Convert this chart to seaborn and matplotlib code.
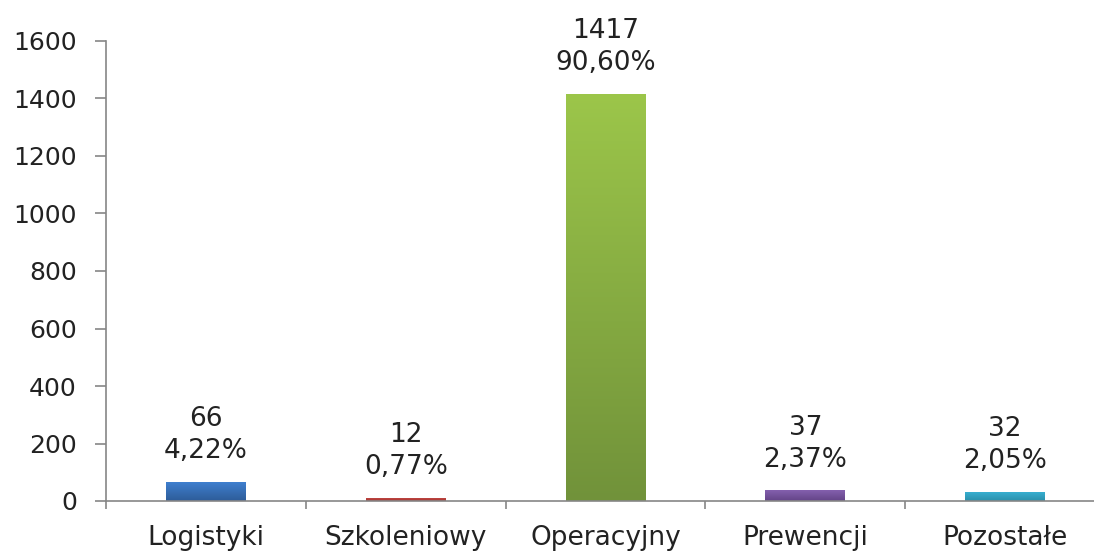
import matplotlib
matplotlib.use("Agg")
from matplotlib import pyplot as plt
import seaborn as sns
import numpy as np
import pandas as pd
from matplotlib.colors import LinearSegmentedColormap

categories = ["Logistyki", "Szkoleniowy", "Operacyjny", "Prewencji", "Pozostałe"]
counts = [66, 12, 1417, 37, 32]
percents = ["4,22%", "0,77%", "90,60%", "2,37%", "2,05%"]
colors_light = ["#3F7FCF", "#C94D48", "#9CC64A", "#8460AE", "#39B2D3"]
colors_dark = ["#2D5C98", "#A3322F", "#71923A", "#634487", "#2A8FAB"]

df = pd.DataFrame({"cat": categories, "n": counts})

sns.set_style("white")
plt.rcParams["font.family"] = ["DejaVu Sans"]

fig = plt.figure(figsize=(10.94, 5.52), dpi=100)
ax = fig.add_axes([106 / 1094, 1 - 501 / 552, 999 / 1094, 460 / 552])

sns.barplot(data=df, x="cat", y="n", hue="cat", palette=colors_light,
            width=0.4, legend=False, ax=ax, saturation=1)

# vertical gradient on each bar
for patch, c1, c2 in zip(ax.patches, colors_light, colors_dark):
    x0, y0 = patch.get_x(), patch.get_y()
    w, h = patch.get_width(), patch.get_height()
    cmap = LinearSegmentedColormap.from_list("g", [c2, c1])
    grad = np.linspace(0, 1, 256).reshape(-1, 1)
    im = ax.imshow(grad, cmap=cmap, aspect="auto", origin="lower",
                   extent=[x0, x0 + w, y0, y0 + h], zorder=patch.get_zorder() + 0.1)
    im.set_clip_path(patch)

for i, (n, p) in enumerate(zip(counts, percents)):
    ax.text(i, n + 62, f"{n}\n{p}", ha="center", va="bottom",
            fontsize=19, color="#222222", linespacing=1.3)

ax.set_xlim(-0.5, 4.5)
ax.set_ylim(0, 1600)
ax.set_yticks(range(0, 1601, 200))
ax.set_xlabel("")
ax.set_ylabel("")

ax.set_xticks(np.arange(-0.5, 4.6, 1), minor=True)
ax.tick_params(axis="x", which="major", length=0, pad=17, labelsize=19, labelcolor="#222222")
ax.tick_params(axis="x", which="minor", bottom=True, length=6, direction="out",
               color="#868686", width=1.2)
ax.tick_params(axis="y", left=True, length=8, direction="out", color="#868686", width=1.2,
               pad=13, labelsize=18, labelcolor="#222222")

for s in ["top", "right"]:
    ax.spines[s].set_visible(False)
for s in ["left", "bottom"]:
    ax.spines[s].set_color("#868686")
    ax.spines[s].set_linewidth(1.2)

fig.savefig("out.png", dpi=100)
